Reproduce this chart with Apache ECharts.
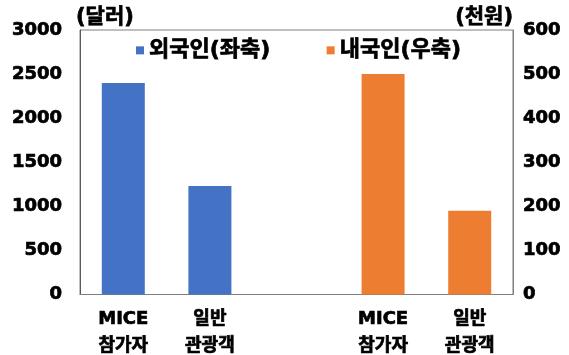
<!DOCTYPE html>
<html>
<head>
<meta charset="utf-8">
<script src="https://cdn.jsdelivr.net/npm/echarts@6/dist/echarts.min.js"></script>
<style>
  html, body { margin: 0; padding: 0; background: #fff; }
  #chart { width: 569px; height: 355px; }
</style>
</head>
<body>
<div id="chart"></div>
<script>
// Spending per visitor: foreigners (USD, left axis) vs. Koreans (thousand KRW, right axis)
const categories = ['MICE\n참가자', '일반\n관광객', '', 'MICE\n참가자', '일반\n관광객'];
const foreignValues = [2400, 1230, null, null, null];
const domesticValues = [null, null, null, 500, 190];
const seriesNames = ['외국인(좌축)', '내국인(우축)'];
const leftAxisName = '(달러)';
const rightAxisName = '(천원)';

const font = '"DejaVu Sans", "Noto Sans CJK KR", sans-serif';
// heavy text: bold face plus a thin outline of the same colour
const heavy = { fontFamily: font, fontWeight: 'bold', color: '#000', textBorderColor: '#000', textBorderWidth: 0.7 };

const chart = echarts.init(document.getElementById('chart'), null, { renderer: 'canvas' });

chart.setOption({
  animation: false,
  backgroundColor: '#ffffff',
  grid: {
    left: 80, right: 56, top: 30, bottom: 60.5,
    outerBoundsMode: 'none',
    containLabel: false,
    show: true, borderColor: '#7f7f7f', borderWidth: 1, backgroundColor: 'transparent'
  },
  legend: {
    data: seriesNames,
    top: 34, left: 131,
    itemWidth: 8, itemHeight: 8, itemGap: 56,
    icon: 'rect',
    textStyle: Object.assign({ fontSize: 22 }, heavy)
  },
  xAxis: {
    type: 'category',
    data: categories,
    axisTick: { show: false },
    axisLine: { show: true, lineStyle: { color: '#7f7f7f', width: 1 } },
    axisLabel: Object.assign({ interval: 0, margin: 11, lineHeight: 27, fontSize: 18 }, heavy)
  },
  yAxis: [
    {
      type: 'value', min: 0, max: 3000, interval: 500,
      name: leftAxisName, nameLocation: 'end', nameGap: 12,
      nameTextStyle: Object.assign({ fontSize: 21, align: 'left', verticalAlign: 'middle', padding: [0, 0, 0, -4] }, heavy),
      axisLine: { show: true, lineStyle: { color: '#595959' } },
      axisTick: { show: false },
      splitLine: { show: false },
      axisLabel: Object.assign({ margin: 18, fontSize: 18, formatter: v => String(v) }, heavy)
    },
    {
      type: 'value', min: 0, max: 600, interval: 100,
      name: rightAxisName, nameLocation: 'end', nameGap: 12,
      nameTextStyle: Object.assign({ fontSize: 21, align: 'right', verticalAlign: 'middle' }, heavy),
      axisLine: { show: true, lineStyle: { color: '#7f7f7f' } },
      axisTick: { show: false },
      splitLine: { show: false },
      axisLabel: Object.assign({ margin: 10, fontSize: 18, formatter: v => String(v) }, heavy)
    }
  ],
  series: [
    {
      name: seriesNames[0], type: 'bar', yAxisIndex: 0,
      data: foreignValues, barWidth: 43, barGap: '-100%',
      itemStyle: { color: '#4472C4' }
    },
    {
      name: seriesNames[1], type: 'bar', yAxisIndex: 1,
      data: domesticValues, barWidth: 43, barGap: '-100%',
      itemStyle: { color: '#ED7D31' }
    }
  ]
});
</script>
</body>
</html>
